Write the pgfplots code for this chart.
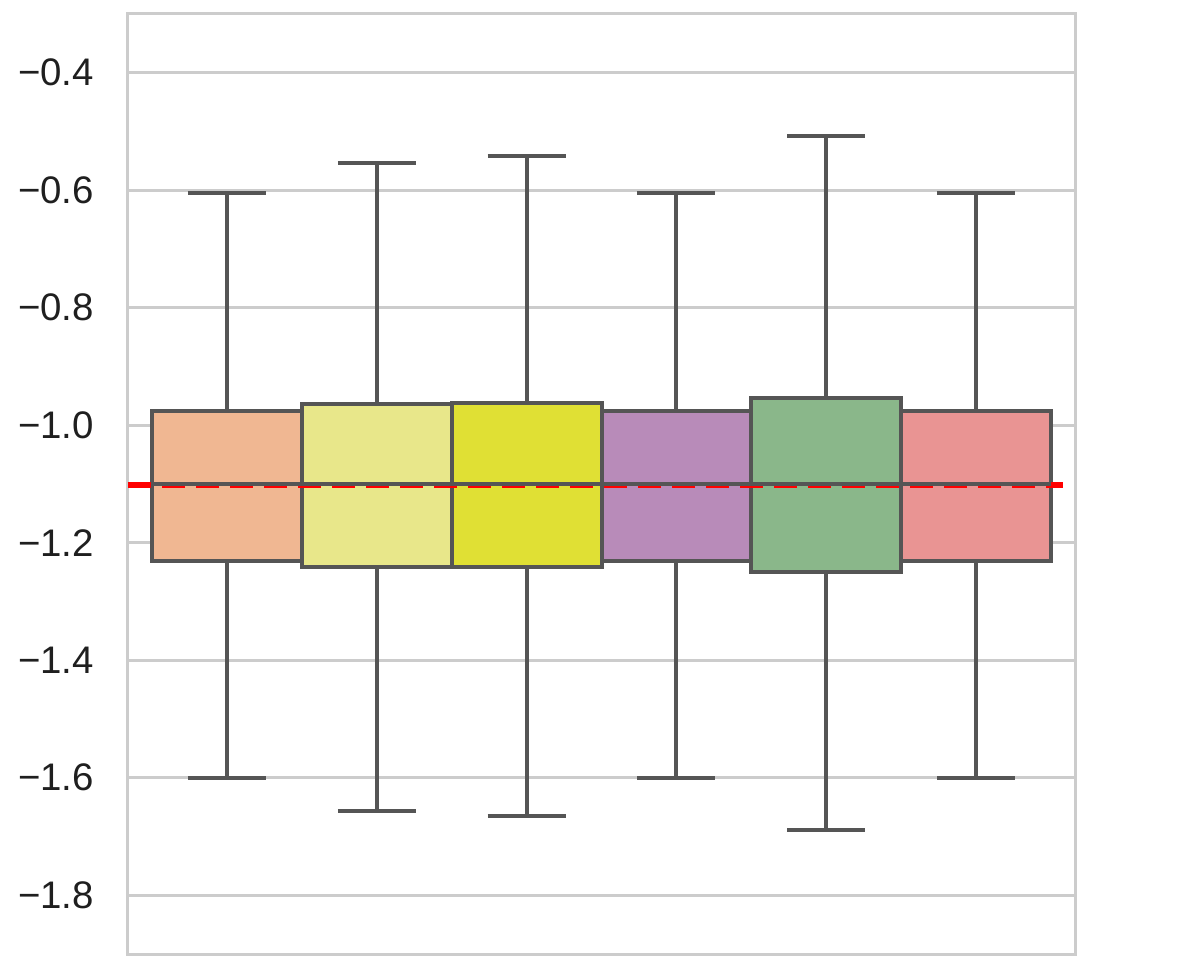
\documentclass[border=0pt]{standalone}
\usepackage{pgfplots}
\pgfplotsset{compat=1.18}
\usepgfplotslibrary{statistics}
\usepackage{fontspec}
\setmainfont{Liberation Sans}

\definecolor{gridgray}{HTML}{CCCCCC}
\definecolor{edgegray}{HTML}{555555}
\definecolor{cA}{HTML}{F0B792}
\definecolor{cB}{HTML}{E8E78A}
\definecolor{cC}{HTML}{E0E034}
\definecolor{cD}{HTML}{B88BB9}
\definecolor{cE}{HTML}{8AB78A}
\definecolor{cF}{HTML}{E99493}

\begin{document}
\begin{tikzpicture}
\begin{axis}[
  scale only axis,
  width=236.75pt, height=235.25pt,
  xmin=-0.66, xmax=5.66,
  ymin=-1.902, ymax=-0.3,
  xtick=\empty,
  ytick={-1.8,-1.6,-1.4,-1.2,-1.0,-0.8,-0.6,-0.4},
  yticklabels={−1.8,−1.6,−1.4,−1.2,−1.0,−0.8,−0.6,−0.4},
  ymajorgrids,
  grid style={gridgray, line width=0.75pt},
  axis line style={gridgray, line width=0.75pt},
  major tick length=0pt,
  tick label style={font=\fontsize{9.6}{11}\selectfont, text=black!88},
  yticklabel style={xshift=-5pt},
  boxplot/draw direction=y,
  every boxplot/.style={line width=1pt},
]
\addplot[draw=edgegray, fill=cA, boxplot prepared={draw position=0, box extend=1, whisker extend=0.52,
  lower whisker=-1.600, lower quartile=-1.231, median=-1.100, upper quartile=-0.976, upper whisker=-0.604}]
  coordinates {};
\addplot[draw=edgegray, fill=cB, boxplot prepared={draw position=1, box extend=1, whisker extend=0.52,
  lower whisker=-1.657, lower quartile=-1.242, median=-1.100, upper quartile=-0.964, upper whisker=-0.553}]
  coordinates {};
\addplot[draw=edgegray, fill=cC, boxplot prepared={draw position=2, box extend=1, whisker extend=0.52,
  lower whisker=-1.666, lower quartile=-1.242, median=-1.100, upper quartile=-0.962, upper whisker=-0.541}]
  coordinates {};
\addplot[draw=edgegray, fill=cD, boxplot prepared={draw position=3, box extend=1, whisker extend=0.52,
  lower whisker=-1.600, lower quartile=-1.231, median=-1.100, upper quartile=-0.976, upper whisker=-0.604}]
  coordinates {};
\addplot[draw=edgegray, fill=cE, boxplot prepared={draw position=4, box extend=1, whisker extend=0.52,
  lower whisker=-1.690, lower quartile=-1.250, median=-1.100, upper quartile=-0.954, upper whisker=-0.507}]
  coordinates {};
\addplot[draw=edgegray, fill=cF, boxplot prepared={draw position=5, box extend=1, whisker extend=0.52,
  lower whisker=-1.600, lower quartile=-1.231, median=-1.100, upper quartile=-0.976, upper whisker=-0.604}]
  coordinates {};

% reference line, drawn under the median lines
\addplot[red, line width=1.5pt, dash pattern=on 5.75pt off 2.75pt] coordinates {(-0.66,-1.1025) (5.58,-1.1025)};
% medians again, on top of the red line
\addplot[edgegray, line width=1pt] coordinates {(-0.5,-1.0995) (5.5,-1.0995)};
\end{axis}
\path ([xshift=-32pt,yshift=-3.5pt]current axis.south west) rectangle ([xshift=30.25pt,yshift=3.5pt]current axis.north east);
\end{tikzpicture}
\end{document}
